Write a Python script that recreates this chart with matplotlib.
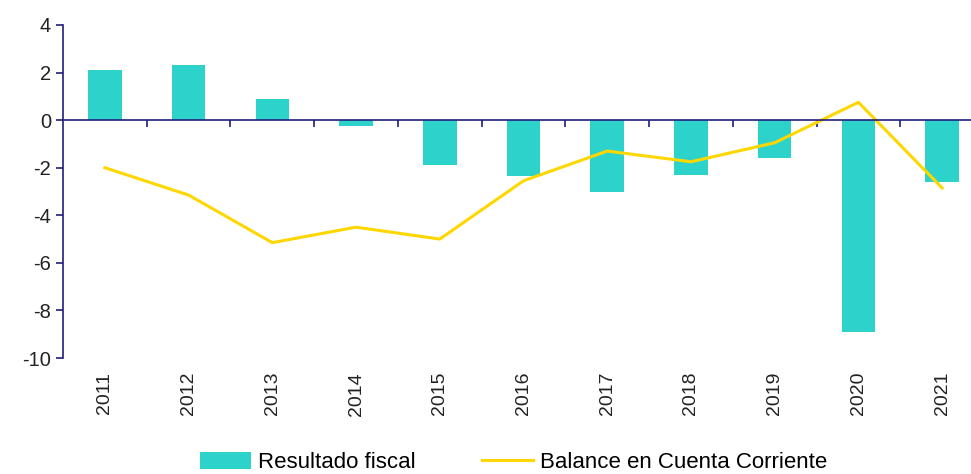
import matplotlib.pyplot as plt
import numpy as np

plt.rcParams['font.family'] = ['Liberation Sans', 'DejaVu Sans']
plt.rcParams['axes.unicode_minus'] = False

years = ['2011', '2012', '2013', '2014', '2015', '2016', '2017', '2018', '2019', '2020', '2021']
resultado_fiscal = [2.1, 2.3, 0.88, -0.25, -1.9, -2.35, -3.0, -2.3, -1.6, -8.9, -2.6]
balance_cc = [-2.0, -3.15, -5.15, -4.5, -5.0, -2.55, -1.3, -1.75, -0.95, 0.75, -2.85]

axis_col = '#1f1f7a'
bar_col = '#2dd3cb'
line_col = '#ffd700'

fig = plt.figure(figsize=(9.71, 4.74), dpi=100)
ax = fig.add_axes([63 / 971, 1 - 358 / 474, (984 - 63) / 971, (358 - 25) / 474])

x = np.arange(len(years))
bars = ax.bar(x, resultado_fiscal, width=0.4, color=bar_col, zorder=2)
line, = ax.plot(x, balance_cc, color=line_col, lw=2.2, zorder=3)

ax.set_xlim(-0.5, len(years) - 0.5)
ax.set_ylim(-10, 4)
ax.set_yticks(range(-10, 5, 2))
ax.tick_params(axis='y', colors=axis_col, length=5, width=1.2, labelsize=14.5, labelcolor='#222222')

for s in ['top', 'right']:
    ax.spines[s].set_visible(False)
ax.spines['left'].set_color(axis_col)
ax.spines['left'].set_linewidth(1.2)
ax.spines['bottom'].set_position(('data', 0))
ax.spines['bottom'].set_color(axis_col)
ax.spines['bottom'].set_linewidth(1.2)
ax.spines['bottom'].set_zorder(4)
ax.set_xticks(x[:-1] + 0.5)
ax.set_xticklabels([])
ax.tick_params(axis='x', colors=axis_col, length=5, width=1.2)

sec = ax.secondary_xaxis('bottom')
sec.set_xticks(x)
sec.set_xticklabels(years, rotation=90, fontsize=14, color='#222222')
sec.tick_params(length=0, pad=10)
sec.spines['bottom'].set_visible(False)

fig.legend([bars, line], ['Resultado fiscal', 'Balance en Cuenta Corriente'],
           loc='center', bbox_to_anchor=(0.529, 0.024), ncol=2, frameon=False,
           fontsize=16, handlelength=2.3, handleheight=0.8, columnspacing=3.0,
           handletextpad=0.3)

fig.savefig('out.png', dpi=100)
